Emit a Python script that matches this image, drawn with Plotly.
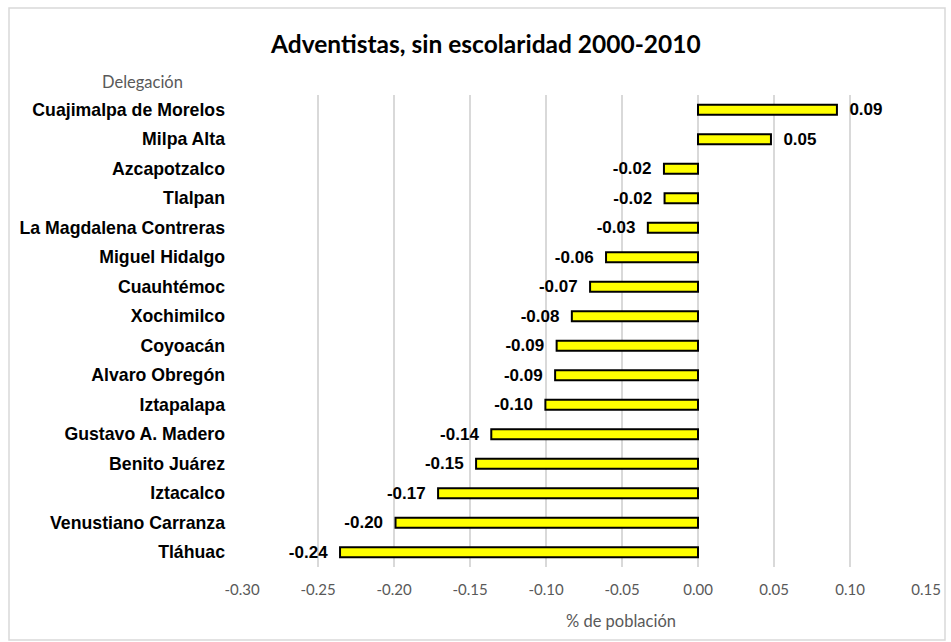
import plotly.graph_objects as go

delegaciones = [
    "Cuajimalpa de Morelos", "Milpa Alta", "Azcapotzalco", "Tlalpan",
    "La Magdalena Contreras", "Miguel Hidalgo", "Cuauhtémoc", "Xochimilco",
    "Coyoacán", "Alvaro Obregón", "Iztapalapa", "Gustavo A. Madero",
    "Benito Juárez", "Iztacalco", "Venustiano Carranza", "Tláhuac",
]
valores = [
    0.0914, 0.048, -0.0224, -0.022,
    -0.033, -0.0605, -0.071, -0.083,
    -0.093, -0.094, -0.1004, -0.136,
    -0.146, -0.171, -0.199, -0.2355,
]
x_ticks = [-0.30, -0.25, -0.20, -0.15, -0.10, -0.05, 0.00, 0.05, 0.10, 0.15]
x_tick_labels = ["-0.30", "-0.25", "-0.20", "-0.15", "-0.10", "-0.05", "0.00", "0.05", "0.10", "0.15"]
titulo = "Adventistas, sin escolaridad 2000-2010"
titulo_x = "% de población"
titulo_y = "Delegación"

W, H = 951, 642
L, R, T, B = 242, 25, 95, 75
pw, ph = W - L - R, H - T - B

templates = ["  %{x:.2f}" if v >= 0 else "%{x:.2f}  " for v in valores]

bold_font = "Arial, Liberation Sans"
gray_font = "Lato, Open Sans, Arial"

fig = go.Figure(go.Bar(
    y=delegaciones, x=valores, orientation="h",
    marker=dict(color="#FFFF00", line=dict(color="#000000", width=2)),
    width=0.34,
    texttemplate=templates, textposition="outside", cliponaxis=False,
    constraintext="none",
    textfont=dict(family=bold_font, size=17, color="#000000", weight="bold"),
    hoverinfo="skip",
))

fig.update_layout(
    width=W, height=H,
    margin=dict(l=L, r=R, t=T, b=B, autoexpand=False),
    paper_bgcolor="white", plot_bgcolor="white",
    showlegend=False,
    xaxis=dict(
        range=[-0.30, 0.15], tickvals=x_ticks, ticktext=x_tick_labels,
        showgrid=True, gridcolor="#D9D9D9", gridwidth=1.5,
        zeroline=False, showline=False, ticks="",
        tickfont=dict(family=gray_font, size=15, color="#595959"),
        ticklabelstandoff=12,
    ),
    yaxis=dict(
        autorange="reversed", showgrid=False, zeroline=False, showline=False, ticks="",
        tickfont=dict(family=bold_font, size=17.7, color="#000000", weight="bold"),
        ticklabelstandoff=16,
    ),
    annotations=[
        dict(text=titulo, x=(485 - L) / pw, y=(H - 43 - B) / ph, xref="paper", yref="paper",
             showarrow=False, xanchor="center", yanchor="middle",
             font=dict(family=gray_font, size=24.5, color="#000000", weight="bold")),
        dict(text=titulo_y, x=(142 - L) / pw, y=(H - 82 - B) / ph, xref="paper", yref="paper",
             showarrow=False, xanchor="center", yanchor="middle",
             font=dict(family=gray_font, size=16.5, color="#595959")),
        dict(text=titulo_x, x=(621 - L) / pw, y=(H - 621 - B) / ph, xref="paper", yref="paper",
             showarrow=False, xanchor="center", yanchor="middle",
             font=dict(family=gray_font, size=16.5, color="#595959")),
    ],
    shapes=[
        dict(type="rect", xref="paper", yref="paper",
             x0=(9 - L) / pw, x1=(945 - L) / pw,
             y0=(H - 640 - B) / ph, y1=(H - 8 - B) / ph,
             line=dict(color="#D9D9D9", width=1.5), fillcolor="rgba(0,0,0,0)", layer="below"),
    ],
)

fig.write_html("out.html", config={"displayModeBar": False},
               post_script="document.body.style.margin='0';")
